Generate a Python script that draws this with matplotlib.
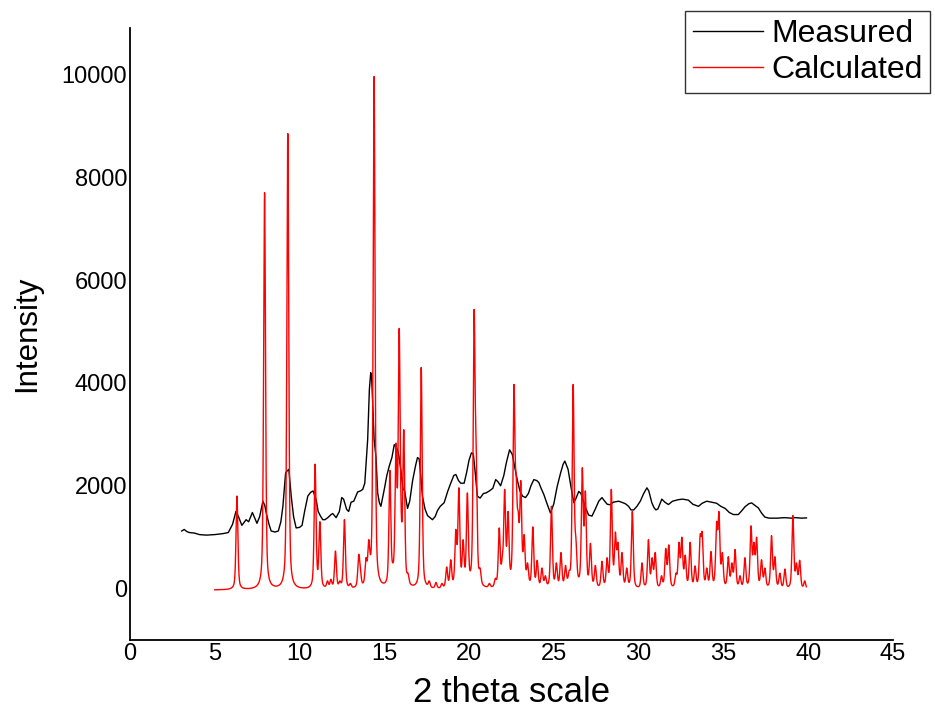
import numpy as np
import matplotlib
matplotlib.use("Agg")
import matplotlib.pyplot as plt

plt.rcParams['font.family'] = ['Liberation Sans', 'DejaVu Sans']

# measured pattern (2theta, intensity)
meas_2theta = [3.05, 3.2, 3.35, 3.5, 3.8, 4.1, 4.5, 5.0, 5.5, 5.8, 6.05, 6.25, 6.4, 6.6, 6.85, 7.0,
               7.22, 7.35, 7.49, 7.65, 7.84, 7.95, 8.04, 8.2, 8.33, 8.55, 8.75, 8.9, 9.02, 9.18, 9.3,
               9.37, 9.51, 9.65, 9.8, 10.0, 10.15, 10.3, 10.49, 10.65, 10.8, 10.98, 11.1, 11.22, 11.37,
               11.5, 11.67, 11.86, 11.96, 12.16, 12.35, 12.49, 12.6, 12.78, 12.9, 13.04, 13.2, 13.43,
               13.6, 13.73, 13.85, 14.02, 14.12, 14.2, 14.25, 14.31, 14.4, 14.51, 14.61, 14.71, 14.8,
               15.0, 15.15, 15.29, 15.45, 15.59, 15.7, 15.78, 15.85, 15.98, 16.1, 16.2, 16.37, 16.5,
               16.67, 16.85, 16.96, 17.06, 17.15, 17.25, 17.4, 17.55, 17.84, 18.0, 18.14, 18.3, 18.53,
               18.75, 18.92, 19.1, 19.22, 19.38, 19.51, 19.71, 19.85, 20.0, 20.14, 20.25, 20.35, 20.49,
               20.65, 20.85, 21.0, 21.2, 21.4, 21.57, 21.7, 21.86, 22.05, 22.2, 22.39, 22.55, 22.7,
               22.84, 23.0, 23.15, 23.33, 23.5, 23.65, 23.82, 24.0, 24.12, 24.25, 24.41, 24.6, 24.8,
               25.0, 25.2, 25.4, 25.55, 25.65, 25.84, 26.0, 26.18, 26.3, 26.47, 26.6, 26.71, 26.9,
               27.05, 27.25, 27.45, 27.65, 27.84, 28.0, 28.15, 28.33, 28.5, 28.82, 29.0, 29.22, 29.41,
               29.55, 29.71, 29.9, 30.1, 30.3, 30.49, 30.6, 30.78, 30.9, 31.02, 31.14, 31.37, 31.55,
               31.76, 32.0, 32.35, 32.6, 32.94, 33.2, 33.53, 33.75, 34.02, 34.3, 34.6, 34.85, 35.1,
               35.35, 35.59, 35.88, 36.1, 36.27, 36.5, 36.67, 36.85, 37.06, 37.25, 37.45, 37.7, 37.88,
               38.2, 38.6, 39.0, 39.25, 39.6, 39.9]
meas_int = [1120, 1150, 1110, 1090, 1080, 1050, 1040, 1050, 1070, 1090, 1250, 1500, 1400, 1230, 1340, 1300,
            1480, 1380, 1270, 1400, 1700, 1620, 1470, 1250, 1120, 1100, 1120, 1300, 1600, 2250, 2300,
            2320, 1800, 1400, 1180, 1190, 1230, 1500, 1800, 1870, 1900, 1730, 1500, 1420, 1340,
            1340, 1380, 1440, 1460, 1380, 1500, 1770, 1740, 1540, 1500, 1680, 1700, 1880,
            1900, 1930, 2050, 2900, 3870, 4200, 4130, 3660, 2900, 2560, 1860, 1670, 1600,
            1930, 2200, 2380, 2550, 2800, 2750, 2700, 2600, 2300, 1950, 1900, 1560, 1700,
            2100, 2400, 2550, 2520, 2200, 1800, 1550, 1420, 1340, 1400, 1520, 1600, 1670,
            1900, 2050, 2200, 2220, 2100, 2050, 2050, 2250, 2500, 2640, 2620, 2300, 1800,
            1760, 1850, 1860, 1900, 1950, 2120, 2080, 2000, 2200, 2450, 2700, 2610, 2350,
            2120, 1900, 1800, 1770, 1850, 2000, 2120, 2100, 2060, 1950, 1830, 1650, 1470,
            1650, 1990, 2250, 2420, 2480, 2320, 2000, 1670, 1750, 1890, 1850, 1730, 1550,
            1430, 1410, 1550, 1700, 1770, 1700, 1640, 1630, 1680, 1700, 1680, 1650, 1600,
            1530, 1530, 1600, 1700, 1850, 1960, 1900, 1670, 1580, 1530, 1550, 1740, 1680,
            1635, 1700, 1730, 1740, 1720, 1640, 1600, 1660, 1700, 1680, 1660, 1600, 1560,
            1480, 1440, 1440, 1520, 1590, 1650, 1667, 1620, 1570, 1470, 1390, 1370, 1370,
            1370, 1380, 1370, 1380, 1370, 1375]

# calculated pattern: reflection positions and apparent peak tops
calc_pos = [6.31, 7.94, 9.31, 10.92, 11.20, 11.65, 11.85, 12.12, 12.38, 12.65, 13.0, 13.49, 13.58,
            13.92, 14.08, 14.16, 14.40, 14.75, 15.33, 15.50, 15.69, 15.88, 16.0, 16.15, 16.40,
            17.18, 17.65, 18.05, 18.40, 18.68, 18.92, 19.22, 19.40, 19.65, 19.90, 20.30, 20.42,
            20.65, 21.20, 21.55, 21.78, 21.96, 22.10, 22.30, 22.65, 22.78, 22.90, 23.05, 23.25,
            23.45, 23.76, 24.02, 24.30, 24.50, 24.86, 25.15, 25.42, 25.69, 25.90, 26.14, 26.30,
            26.68, 26.86, 27.16, 27.45, 27.84, 28.14, 28.39, 28.63, 28.78, 29.02, 29.30, 29.63,
            30.2, 30.58, 30.80, 30.98, 31.35, 31.60, 31.78, 32.2, 32.38, 32.55, 32.75, 33.04,
            33.33, 33.63, 33.75, 34.02, 34.27, 34.60, 34.74, 34.94, 35.29, 35.50, 35.69, 35.98,
            36.27, 36.63, 36.80, 36.96, 37.25, 37.45, 37.84, 38.04, 38.33, 38.63, 39.10, 39.31,
            39.50, 39.80]
calc_height = [1800, 7700, 8850, 2420, 1300, 150, 180, 730, 150, 1340, 100, 660, 450,
               600, 950, 700, 9960, 150, 2300, 500, 2830, 5060, 1500, 3090, 300,
               4300, 150, 120, 100, 420, 560, 1150, 1960, 950, 1860, 5430, 2800,
               400, 100, 200, 1180, 630, 1930, 1500, 3970, 2200, 1500, 2100, 1050,
               500, 1200, 550, 400, 250, 1600, 500, 700, 450, 350, 3970, 1000,
               2350, 1900, 880, 450, 530, 600, 1930, 1100, 900, 700, 400, 1500,
               500, 950, 600, 700, 250, 780, 850, 300, 900, 1000, 650, 900,
               440, 1050, 1100, 400, 720, 1300, 1500, 700, 620, 500, 760, 250,
               600, 1220, 900, 1000, 560, 400, 1030, 620, 300, 380, 1420, 500,
               550, 150]
calc_start, calc_end, calc_base = 5.0, 39.9, -30


def profile(x, pos, fwhm=0.13, eta=0.5):
    # pseudo-Voigt line shape for the calculated reflections
    d = (x - pos) / (fwhm / 2)
    return eta / (1 + d ** 2) + (1 - eta) * np.exp(-np.log(2) * d ** 2)


pos = np.array(calc_pos)
target = np.array(calc_height, dtype=float) - calc_base
# remove the overlap of neighbouring lines so the summed tops land on the read heights
M = profile(pos[:, None], pos[None, :])
amp = target.copy()
for _ in range(200):
    amp = np.clip(target - (M @ amp - amp), 0, None)

x_calc = np.arange(calc_start, calc_end, 0.01)
y_calc = calc_base + (profile(x_calc[:, None], pos[None, :]) * amp).sum(axis=1)

fig = plt.figure(figsize=(9.35, 7.13), dpi=100)
ax = fig.add_axes([0.139, 0.1024, 0.816, 0.858])

ax.plot(meas_2theta, meas_int, color='black', lw=1.0, label='Measured')
ax.plot(x_calc, y_calc, color='red', lw=1.0, label='Calculated')

ax.set_xlim(0, 45)
ax.set_ylim(-1000, 10900)
ax.set_xticks(np.arange(0, 46, 5))
ax.set_yticks(np.arange(0, 10001, 2000))
for s in ['top', 'right']:
    ax.spines[s].set_visible(False)
for s in ['left', 'bottom']:
    ax.spines[s].set_linewidth(1.3)
ax.tick_params(length=0, pad=2, labelsize=17)

ax.set_xlabel('2 theta scale', fontsize=25, labelpad=8)
ax.set_ylabel('Intensity', fontsize=22.5, labelpad=14)

leg = fig.legend(loc='upper right', bbox_to_anchor=(0.995, 0.985), fontsize=23,
                 frameon=True, fancybox=False, handlelength=2.2, borderpad=0.25,
                 labelspacing=0.2, handletextpad=0.25, borderaxespad=0)
leg.get_frame().set_edgecolor('black')
leg.get_frame().set_linewidth(1.0)

fig.savefig('out.png', dpi=100)
